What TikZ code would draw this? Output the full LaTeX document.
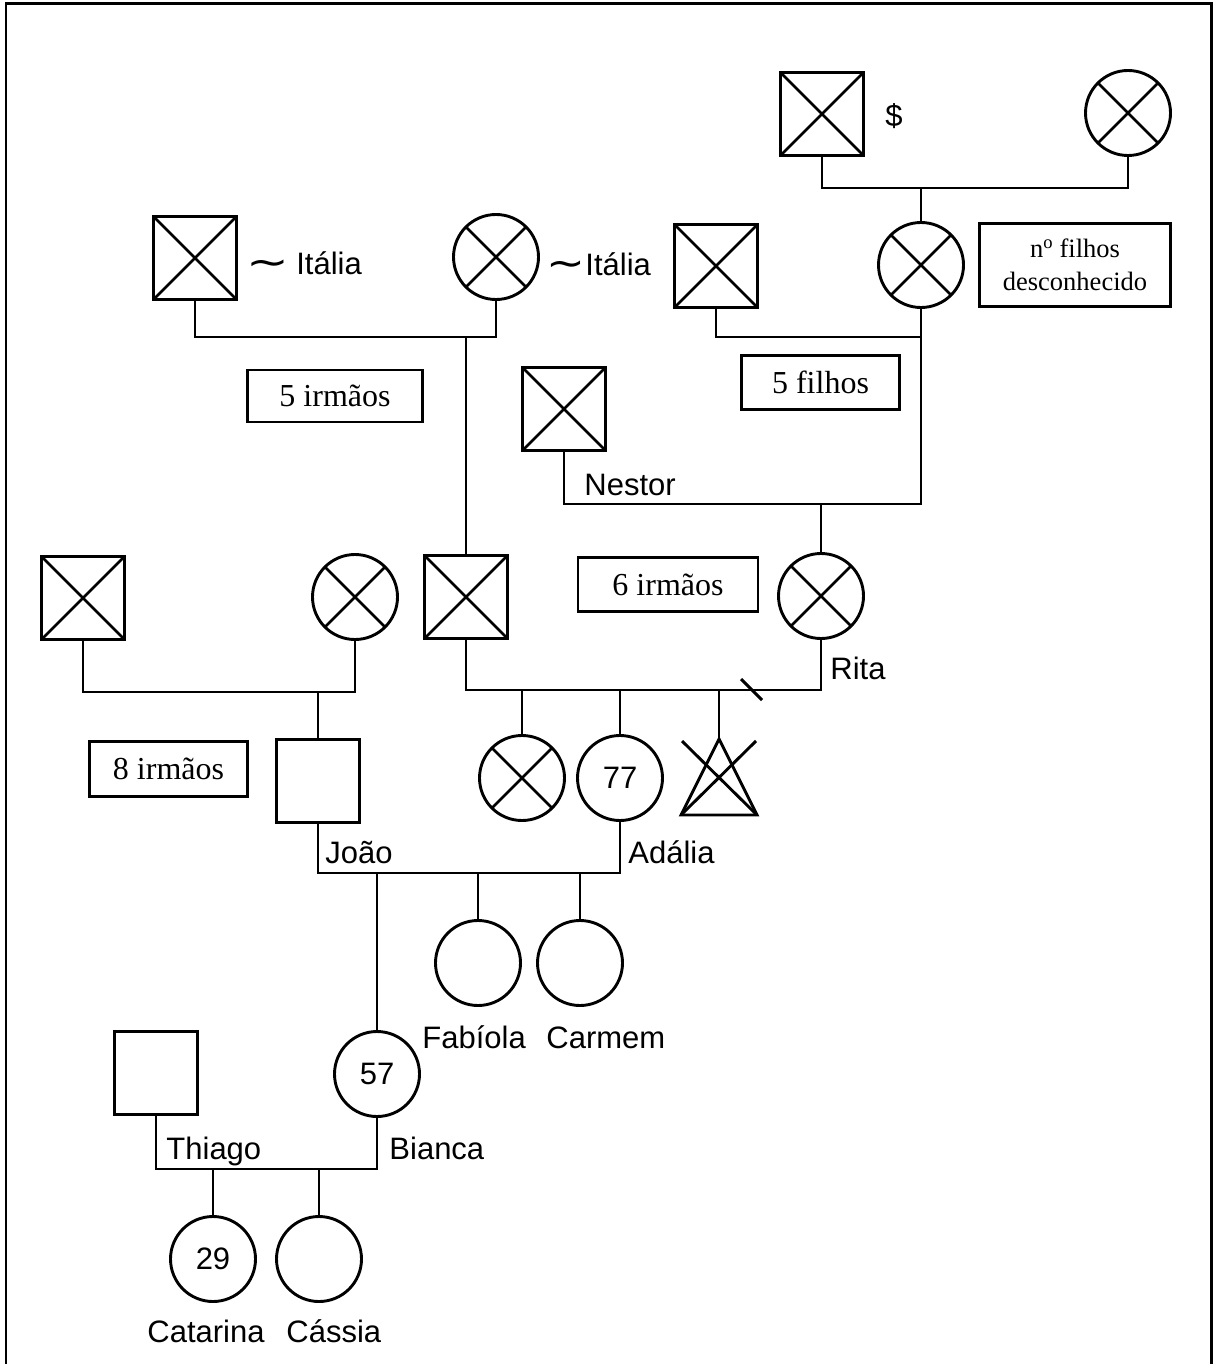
\documentclass[tikz,border=0pt]{standalone}
\usepackage{fontspec}
\setmainfont{Liberation Serif}
\newfontfamily\arialf{Liberation Sans}
\newfontfamily\dejaf{DejaVu Sans}
\usepackage{graphicx}
\newcommand{\tsim}[1]{\raisebox{-1.5pt}{\scalebox{#1}[1.25]{\dejaf ∼}}}
\begin{document}
\begin{tikzpicture}[x=1pt,y=-1pt, line width=2.9pt,
 every node/.style={inner sep=0pt},
 sq/.style={draw, rectangle, minimum size=83pt},
 xsq/.style={sq, path picture={\draw[line width=2.7pt] (path picture bounding box.north west)--(path picture bounding box.south east) (path picture bounding box.north east)--(path picture bounding box.south west);}},
 ci/.style={draw, circle, minimum size=85pt, font=\arialf\fontsize{31}{36}\selectfont},
 xci/.style={ci, path picture={\draw[line width=2.7pt] (path picture bounding box.north west)--(path picture bounding box.south east) (path picture bounding box.north east)--(path picture bounding box.south west);}},
 note/.style={draw, rectangle, align=center, font=\fontsize{32}{37}\selectfont},
 lbl/.style={anchor=base west, font=\arialf\fontsize{31}{36}\selectfont}
]
\useasboundingbox (0,0) rectangle (1213,1364);
% frame
\draw (6,1364) -- (6,3.5) -- (1211.5,3.5) -- (1211.5,1364);

% persons
\node[xsq] (gA) at (822,114) {};
\node[xci] (gB) at (1128,113) {};
\node[xci] (rM) at (921,265) {};
\node[xsq] (rF) at (716,266) {};
\node[xsq] (iF) at (195,258) {};
\node[xci] (iM) at (496,257) {};
\node[xsq] (nes) at (564,409) {};
\node[xsq] (pF) at (466,597) {};
\node[xci] (rita) at (821,596) {};
\node[xsq] (jF) at (83,598) {};
\node[xci] (jM) at (355,597) {};
\node[sq] (joao) at (318,781) {};
\node[xci] (s1) at (522,778) {};
\node[ci] (adalia) at (620,778) {77};
\coordinate (tri) at (719,739);
\coordinate (triR) at (757,815);
\coordinate (triL) at (681,815);
\node[ci] (fab) at (478,963) {};
\node[ci] (car) at (580,963) {};
\node[ci] (bia) at (377,1074) {57};
\node[sq] (thi) at (156,1073) {};
\node[ci] (cat) at (213,1259) {29};
\node[ci] (cas) at (319,1259) {};

% triangle
\draw (tri) -- (triR) -- (triL) -- cycle;
\draw (682,741) -- (triR) (756,741) -- (triL);

% connectors
\draw (gA.south) -- (gA.south |- 0,188) -- (gB.south |- 0,188) -- (gB.south);
\draw (rM.north |- 0,188) -- (rM.north);
\draw (rF.south) -- (rF.south |- 0,337) -- (rM.south |- 0,337);
\draw (rM.south) -- (rM.south |- 0,504) -- (nes.south |- 0,504) -- (nes.south);
\draw (iF.south) -- (iF.south |- 0,337) -- (iM.south |- 0,337) -- (iM.south);
\draw (pF.north |- 0,337) -- (pF.north);
\draw (rita.north |- 0,504) -- (rita.north);
\draw (pF.south) -- (pF.south |- 0,690) -- (rita.south |- 0,690) -- (rita.south);
\draw (jF.south) -- (jF.south |- 0,692) -- (jM.south |- 0,692) -- (jM.south);
\draw (joao.north |- 0,692) -- (joao.north);
\draw (s1.north |- 0,690) -- (s1.north);
\draw (adalia.north |- 0,690) -- (adalia.north);
\draw (tri |- 0,690) -- (tri);
\coordinate (slA) at (741,679);
\coordinate (slB) at (762,700);
\draw (slA) -- (slB);
\draw (joao.south) -- (joao.south |- 0,873) -- (adalia.south |- 0,873) -- (adalia.south);
\draw (fab.north |- 0,873) -- (fab.north);
\draw (car.north |- 0,873) -- (car.north);
\draw (bia.north |- 0,873) -- (bia.north);
\draw (thi.south) -- (thi.south |- 0,1169) -- (bia.south |- 0,1169) -- (bia.south);
\draw (cat.north |- 0,1169) -- (cat.north);
\draw (cas.north |- 0,1169) -- (cas.north);

% notes
\node[note, minimum width=175pt, minimum height=52pt] (b5i) at (335,396) {5 irmãos};
\node[note, minimum width=158pt, minimum height=54pt] (b5f) at (820.5,382.5) {5 filhos};
\node[note, minimum width=180pt, minimum height=54pt] (b6i) at (668,584.5) {6 irmãos};
\node[note, minimum width=158pt, minimum height=55pt] (b8i) at (168.5,769) {8 irmãos};
\node[note, minimum width=191pt, minimum height=83pt, font=\fontsize{26.5}{33}\selectfont] (bnf) at (1075,265) {n\textsuperscript{o} filhos\\desconhecido};

% labels
\node[lbl] (dol) at (884,127) {\$};
\node[lbl] (it1) at (245,274) {\tsim{1.65}\hspace{7pt}Itália};
\node[lbl] (it2) at (545,275) {\tsim{1.5}Itália};
\node[lbl] (lnes) at (583,495) {Nestor};
\node[lbl] (lrit) at (829,679) {Rita};
\node[lbl] (ljoa) at (324,863) {João};
\node[lbl] (lada) at (627,863) {Adália};
\node[lbl] (lfab) at (421,1048) {Fabíola};
\node[lbl] (lcar) at (545,1048) {Carmem};
\node[lbl] (lthi) at (165,1159) {Thiago};
\node[lbl] (lbia) at (388,1159) {Bianca};
\node[lbl] (lcat) at (146,1342) {Catarina};
\node[lbl] (lcas) at (285,1342) {Cássia};
\end{tikzpicture}
\end{document}
